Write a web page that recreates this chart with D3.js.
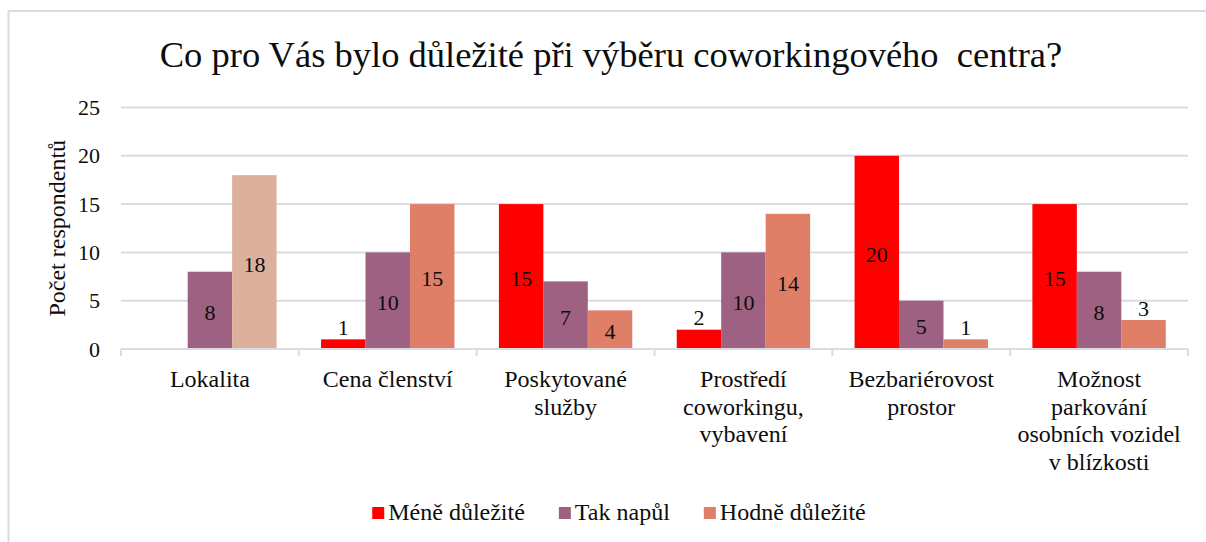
<!DOCTYPE html>
<html>
<head>
<meta charset="utf-8">
<script src="https://cdn.jsdelivr.net/npm/d3@7"></script>
<style>
    body { margin: 0; background: #fff; }
    svg text { font-family: "Liberation Serif", Tinos, "Times New Roman", Times, "DejaVu Serif", "Noto Serif", serif; fill: #0d0d0d; }
</style>
</head>
<body>
<div id="graph"></div>
<script>
// data
const categories = ["Lokalita", "Cena členství", "Poskytované služby", "Prostředí coworkingu, vybavení", "Bezbariérovost prostor", "Možnost parkování osobních vozidel v blízkosti"];
const category_lines = [
    ["Lokalita"],
    ["Cena členství"],
    ["Poskytované", "služby"],
    ["Prostředí", "coworkingu,", "vybavení"],
    ["Bezbariérovost", "prostor"],
    ["Možnost", "parkování", "osobních vozidel", "v blízkosti"]
];
const series = ["Méně důležité", "Tak napůl", "Hodně důležité"];
const mene_dulezite = [0, 1, 15, 2, 20, 15];
const tak_napul = [8, 10, 7, 10, 5, 8];
const hodne_dulezite = [18, 15, 4, 14, 1, 3];
const y_ticks = [0, 5, 10, 15, 20, 25];
const title = "Co pro Vás bylo důležité při výběru coworkingového  centra?";
const y_title = "Počet respondentů";

const colors = { "Méně důležité": "#ff0000", "Tak napůl": "#9e6181", "Hodně důležité": "#e07f68" };
const highlight_color = "#dbb19e"; // Lokalita / Hodně důležité has its own fill

const width = 1206, height = 542;
const margin = { left: 121, right: 18, top: 107.5, bottom: 193 };

const values = { "Méně důležité": mene_dulezite, "Tak napůl": tak_napul, "Hodně důležité": hodne_dulezite };
const rows = [];
categories.forEach(function (c, i) {
    series.forEach(function (s) {
        rows.push({ cat: c, idx: i, series: s, value: values[s][i] });
    });
});

let svg = d3.select("#graph")
    .append("svg")
    .attr("width", width)
    .attr("height", height);

// chart frame
svg.append("rect")
    .attr("x", 8.5)
    .attr("y", 11)
    .attr("width", width + 20)
    .attr("height", height + 20)
    .attr("fill", "none")
    .attr("stroke", "#d9dce3")
    .attr("stroke-width", 2);

// title
svg.append("text")
    .attr("x", 611)
    .attr("y", 67)
    .attr("text-anchor", "middle")
    .style("font-size", "36.5px")
    .style("white-space", "pre")
    .text(title);

// scales
let x = d3.scaleBand()
    .domain(categories)
    .range([margin.left, width - margin.right])
    .padding(0);
let x1 = d3.scaleBand()
    .domain(series)
    .range([0, x.bandwidth()])
    .paddingInner(0)
    .paddingOuter(0.5);
let y = d3.scaleLinear()
    .domain([0, 25])
    .range([height - margin.bottom, margin.top]);

// gridlines
svg.append("g")
    .attr("class", "grid")
    .selectAll("line")
    .data(y_ticks.slice(1))
    .enter()
    .append("line")
    .attr("x1", margin.left)
    .attr("x2", width - margin.right)
    .attr("y1", d => y(d))
    .attr("y2", d => y(d))
    .attr("stroke", "#d9dce3")
    .attr("stroke-width", 2);

// y axis labels
let yAxis = svg.append("g")
    .attr("class", "y-axis")
    .attr("transform", `translate(${margin.left}, 0)`)
    .call(d3.axisLeft(y).tickValues(y_ticks).tickSize(0).tickPadding(21));
yAxis.attr("font-family", null);
yAxis.select(".domain").remove();
yAxis.selectAll("text")
    .attr("fill", "#0d0d0d")
    .style("font-size", "22px");

svg.append("text")
    .attr("transform", `translate(65, ${(y(0) + y(25)) / 2}) rotate(-90)`)
    .attr("text-anchor", "middle")
    .style("font-size", "24px")
    .text(y_title);

// bars
svg.append("g")
    .attr("class", "bars")
    .selectAll("rect")
    .data(rows.filter(d => d.value > 0))
    .enter()
    .append("rect")
    .attr("x", d => x(d.cat) + x1(d.series))
    .attr("y", d => y(d.value))
    .attr("width", x1.bandwidth())
    .attr("height", d => y(0) - y(d.value))
    .attr("fill", d => (d.idx === 0 && d.series === "Hodně důležité") ? highlight_color : colors[d.series]);

// value labels, centered in the bar, above it when the bar is too short
svg.append("g")
    .attr("class", "labels")
    .selectAll("text")
    .data(rows.filter(d => d.value > 0))
    .enter()
    .append("text")
    .attr("x", d => x(d.cat) + x1(d.series) + x1.bandwidth() / 2)
    .attr("y", function (d) {
        if (d.value <= 3) return y(d.value) - 12;
        return (y(d.value) + y(0)) / 2 + 2;
    })
    .attr("text-anchor", "middle")
    .attr("dominant-baseline", "central")
    .style("font-size", "22px")
    .text(d => d.value);

// x axis line + ticks
let xAxis = svg.append("g").attr("class", "x-axis");
xAxis.append("line")
    .attr("x1", margin.left)
    .attr("x2", width - margin.right)
    .attr("y1", y(0))
    .attr("y2", y(0))
    .attr("stroke", "#d9dce3")
    .attr("stroke-width", 2);
xAxis.selectAll(".tick")
    .data(categories.concat([null]))
    .enter()
    .append("line")
    .attr("class", "tick")
    .attr("x1", d => d === null ? width - margin.right : x(d))
    .attr("x2", d => d === null ? width - margin.right : x(d))
    .attr("y1", y(0))
    .attr("y2", y(0) + 7)
    .attr("stroke", "#d9dce3")
    .attr("stroke-width", 2);

// category labels (wrapped)
let catText = xAxis.selectAll(".cat")
    .data(categories)
    .enter()
    .append("text")
    .attr("class", "cat")
    .attr("text-anchor", "middle")
    .attr("x", d => x(d) + x.bandwidth() / 2)
    .attr("y", 387)
    .style("font-size", "24px");
catText.selectAll("tspan")
    .data((d, i) => category_lines[i])
    .enter()
    .append("tspan")
    .attr("x", function () { return d3.select(this.parentNode).attr("x"); })
    .attr("dy", (d, i) => i === 0 ? 0 : 27.7)
    .text(d => d);

// legend
let legend = svg.append("g").attr("class", "legend");
let items = legend.selectAll("g")
    .data(series)
    .enter()
    .append("g");
items.append("rect")
    .attr("y", 507)
    .attr("width", 12)
    .attr("height", 12)
    .attr("fill", d => colors[d]);
items.append("text")
    .attr("x", 16)
    .attr("y", 520)
    .style("font-size", "24px")
    .text(d => d);

let offset = 0;
let widths = [];
items.each(function () {
    widths.push(16 + this.querySelector("text").getComputedTextLength());
});
let total = d3.sum(widths) + 34 * (widths.length - 1);
let start = 619 - total / 2;
items.attr("transform", function (d, i) {
    let t = `translate(${start + offset}, 0)`;
    offset += widths[i] + 34;
    return t;
});
</script>
</body>
</html>
